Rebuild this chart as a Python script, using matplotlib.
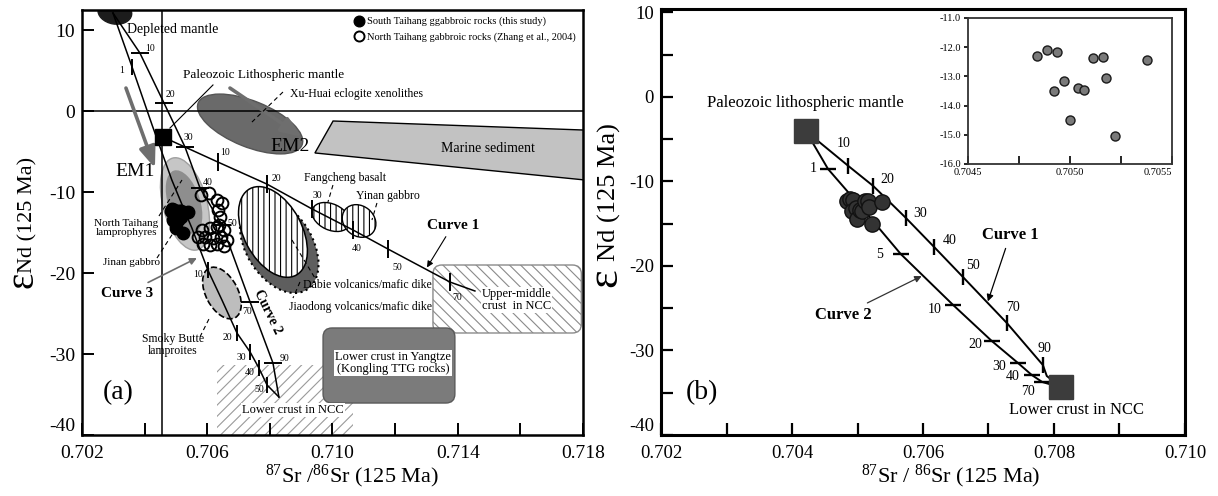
import numpy as np
import matplotlib
matplotlib.use("Agg")
import matplotlib.pyplot as plt
from matplotlib.patches import Ellipse, Polygon, FancyBboxPatch
from matplotlib.transforms import ScaledTranslation
from matplotlib.ticker import FormatStrFormatter

plt.rcParams.update({
    "font.family": ["Liberation Serif", "DejaVu Serif"],
    "mathtext.fontset": "custom",
    "mathtext.rm": "Liberation Serif",
    "mathtext.it": "Liberation Serif:italic",
    "mathtext.bf": "Liberation Serif:bold",
    "axes.unicode_minus": False,
    "hatch.linewidth": 0.8,
})

# ===== data =====
# South Taihang gabbroic rocks (this study)
st_sr = [0.704838, 0.704887, 0.704936, 0.704920, 0.704972, 0.704998, 0.705041,
         0.705067, 0.705113, 0.705163, 0.705176, 0.705219, 0.705377]
st_nd = [-12.29, -12.11, -12.16, -13.49, -13.17, -14.48, -13.40,
         -13.48, -12.37, -12.35, -13.07, -15.05, -12.43]

# North Taihang gabbroic rocks (Zhang et al., 2004)
nt_sr = [0.70580, 0.70606, 0.70631, 0.70647, 0.70634, 0.70641, 0.70638, 0.70583, 0.70609, 0.70631,
         0.70654, 0.70571, 0.70593, 0.70618, 0.70644, 0.70663, 0.70586, 0.70609, 0.70631, 0.70654]
nt_nd = [-10.35, -10.11, -10.97, -11.34, -12.21, -13.07, -14.06, -14.68, -14.43, -14.31,
         -14.68, -15.54, -15.54, -15.66, -15.54, -15.91, -16.41, -16.53, -16.41, -16.65]

# isotope fields (centres) in panel (a)
field_names = ["Depleted mantle", "EM2", "North Taihang lamprophyres", "Jinan gabbro",
               "Smoky Butte lamproites", "Jiaodong volcanics", "Dabie volcanics",
               "Fangcheng basalt", "Yinan gabbro"]
field_sr = [0.70305, 0.70737, 0.70529, 0.70526, 0.70647, 0.70830, 0.70810, 0.70995, 0.71085]
field_nd = [12.25, -1.58, -11.46, -11.22, -22.46, -16.60, -14.92, -13.07, -13.56]

# crustal reservoirs (sr range, nd range)
box_names = ["Upper-middle crust in NCC", "Lower crust in Yangtze", "Lower crust in NCC"]
box_sr = [(0.71321, 0.71795), (0.70970, 0.71391), (0.70631, 0.71066)]
box_nd = [(-27.40, -19.00), (-36.05, -26.78), (-41.0, -31.35)]

# marine sediment field
msed_sr = [0.71002, 0.7182, 0.7182, 0.70944]
msed_nd = [-1.21, -2.35, -8.55, -5.16]

# Paleozoic lithospheric mantle in (a)
plm_a_sr, plm_a_nd = 0.70459, -3.19

# mixing curves, panel (a)
a_c1_sr = [0.70459, 0.70634, 0.70790, 0.70935, 0.71066, 0.71177, 0.71375, 0.71455]
a_c1_nd = [-3.19, -6.28, -8.99, -12.08, -14.68, -17.02, -21.10, -22.21]
a_c1_ticks = [1, 2, 3, 4, 5, 6]
a_c1_labels = ["10", "20", "30", "40", "50", "70"]

a_c2_sr = [0.70299, 0.70385, 0.70462, 0.70529, 0.70577, 0.70647, 0.70737, 0.70810, 0.70829]
a_c2_nd = [12.13, 7.19, 1.01, -4.42, -9.49, -14.06, -23.57, -31.11, -35.31]
a_c2_ticks = [1, 2, 3, 4, 5, 6, 7]
a_c2_labels = ["10", "20", "30", "40", "50", "70", "90"]

a_c3_sr = [0.70299, 0.70360, 0.70424, 0.70487, 0.70532, 0.70551, 0.70602, 0.70647,
           0.70695, 0.70737, 0.70765, 0.70791, 0.70829]
a_c3_nd = [12.13, 5.46, -1.71, -8.50, -12.70, -14.43, -19.62, -23.32,
           -27.40, -29.75, -31.72, -33.82, -35.31]
a_c3_ticks = [1, 4, 6, 8, 9, 10, 11]
a_c3_labels = ["1", "5", "10", "20", "30", "40", "50"]

# end-members, panel (b)
plm_b_sr, plm_b_nd = 0.70421, -4.03
lcn_b_sr, lcn_b_nd = 0.70811, -34.38

# mixing curves, panel (b)
b_c1_sr = [0.70421, 0.70486, 0.70524, 0.70574, 0.70617, 0.70661, 0.70728, 0.70783, 0.70789, 0.70811]
b_c1_nd = [-4.03, -8.17, -10.54, -14.33, -17.76, -21.31, -26.75, -31.72, -33.02, -34.38]
b_c1_ticks = [1, 2, 3, 4, 5, 6, 7]
b_c1_labels = ["10", "20", "30", "40", "50", "70", "90"]

b_c2_sr = [0.70421, 0.70455, 0.70512, 0.70566, 0.70646, 0.70705, 0.70745, 0.70766, 0.70782, 0.70811]
b_c2_nd = [-4.03, -8.53, -13.62, -18.59, -24.62, -28.88, -31.48, -32.90, -33.73, -34.38]
b_c2_ticks = [1, 3, 4, 5, 6, 7, 8]
b_c2_labels = ["1", "5", "10", "20", "30", "40", "70"]


# ===== helpers =====
def oval(ax, sr, nd, w, h, ang, **kw):
    # ellipse of fixed size (inches) centred on a data point
    tr = ax.figure.dpi_scale_trans + ScaledTranslation(sr, nd, ax.transData)
    ax.add_patch(Ellipse((0, 0), w, h, angle=ang, transform=tr, **kw))


def px_aspect(ax):
    inv = ax.transData.inverted()
    p0, p1 = inv.transform((0, 0)), inv.transform((1, 1))
    return (p1[1] - p0[1]) / (p1[0] - p0[0]), p1[0] - p0[0]


def curve(ax, xs, ys, idx, labels, marker, ms, offs, lw, fs):
    ax.plot(xs, ys, color="k", lw=lw, zorder=3)
    tx = [xs[i] for i in idx]
    ty = [ys[i] for i in idx]
    ax.plot(tx, ty, ls="none", marker=marker, ms=ms, mew=lw + 0.3, color="k", zorder=3)
    for x, y, lab, (dx, dy) in zip(tx, ty, labels, offs):
        ax.annotate(lab, (x, y), xytext=(dx, dy), textcoords="offset points",
                    ha="center", va="center", fontsize=fs, zorder=6)


def leader(ax, x0, y0, x1, y1, ls="--"):
    ax.plot([x0, x1], [y0, y1], color="k", lw=0.8, ls=ls, dashes=(4, 3) if ls == "--" else (None, None), zorder=4)


fig = plt.figure(figsize=(12.18, 4.96), dpi=100)

# ===== panel (a) =====
ax = fig.add_axes([0.0673, 0.1230, 0.4113, 0.8568])
ax.set_xlim(0.702, 0.718)
ax.set_ylim(-40, 12.5)
ax.set_xticks([0.702, 0.704, 0.706, 0.708, 0.710, 0.712, 0.714, 0.716, 0.718],
              ["0.702", "", "0.706", "", "0.710", "", "0.714", "", "0.718"])
ax.set_yticks([-40, -30, -20, -10, 0, 10])
ax.tick_params(direction="in", length=8.5, width=1.4, labelsize=14, pad=5)
ax.tick_params(axis="x", pad=7)
ax.get_yticklabels()[0].set_va("bottom")
for s in ax.spines.values():
    s.set_linewidth(1.8)

ax.axvline(0.70455, color="k", lw=1.1, zorder=2)
ax.axhline(0, color="k", lw=1.1, zorder=2)

asp, xpp = px_aspect(ax)

# crustal boxes
ax.add_patch(FancyBboxPatch((box_sr[2][0], box_nd[2][0]), box_sr[2][1] - box_sr[2][0],
                            box_nd[2][1] - box_nd[2][0], boxstyle="square,pad=0",
                            fc="white", ec="#9a9a9a", lw=0, hatch="///", zorder=1))
ax.add_patch(FancyBboxPatch((box_sr[0][0], box_nd[0][0]), box_sr[0][1] - box_sr[0][0],
                            box_nd[0][1] - box_nd[0][0],
                            boxstyle=f"round,pad=0,rounding_size={9 * xpp}", mutation_aspect=asp,
                            fc="white", ec="#8a8a8a", lw=1.0, hatch="\\\\\\", zorder=1))
ax.add_patch(FancyBboxPatch((box_sr[1][0], box_nd[1][0]), box_sr[1][1] - box_sr[1][0],
                            box_nd[1][1] - box_nd[1][0],
                            boxstyle=f"round,pad=0,rounding_size={9 * xpp}", mutation_aspect=asp,
                            fc="#7b7b7b", ec="#5a5a5a", lw=1.0, zorder=1.5))

# marine sediment
ax.add_patch(Polygon(list(zip(msed_sr, msed_nd)), closed=True, fc="#c2c2c2", ec="k", lw=1.0, zorder=1))

# isotope fields
shapes = [
    (0.34, 0.24, -10, dict(fc="#1c1c1c", ec="#1c1c1c")),
    (1.12, 0.46, -22, dict(fc="#6a6a6a", ec="#555555")),
    (0.95, 0.44, -75, dict(fc="#c6c6c6", ec="#a0a0a0")),
    (0.66, 0.32, -72, dict(fc="#8e8e8e", ec="none")),
    (0.56, 0.32, -62, dict(fc="#bdbdbd", ec="k", ls="--", lw=1.2)),
    (1.04, 0.66, -58, dict(fc="#5e5e5e", ec="k", ls=":", lw=1.5)),
    (0.98, 0.58, -62, dict(fc="white", ec="k", hatch="|||", lw=1.1)),
    (0.40, 0.26, -25, dict(fc="white", ec="k", hatch="|||", lw=1.0)),
    (0.36, 0.30, -40, dict(fc="white", ec="k", hatch="|||", lw=1.0)),
]
for x, y, (w, h, a, st) in zip(field_sr, field_nd, shapes):
    oval(ax, x, y, w, h, a, zorder=1.2, **st)

# EM1 / EM2 trends
arr = dict(arrowstyle="-|>,head_length=0.9,head_width=0.35", color="#6e6e6e", lw=2.6,
           shrinkA=0, shrinkB=0, mutation_scale=14)
ax.annotate("", xy=(0.704331, -7.02), xytext=(0.703405, 2.86), arrowprops=arr, zorder=2)
ax.annotate("", xy=(0.709026, -3.19), xytext=(0.706727, 2.86), arrowprops=arr, zorder=2)

# mixing curves
curve(ax, a_c1_sr, a_c1_nd, a_c1_ticks, a_c1_labels, "|", 13,
      [(5, 7), (7, 4.3), (3.6, 10), (2.9, -13), (6.5, -13), (5, -11)], 1.1, 7)
curve(ax, a_c2_sr, a_c2_nd, a_c2_ticks, a_c2_labels, "_", 13,
      [(7, 3.6), (4.3, 5.8), (2.5, 6.5), (5.8, 4.3), (7.2, 1.4), (-2.2, -7.2), (8.6, 3.6)], 1.1, 7)
curve(ax, a_c3_sr, a_c3_nd, a_c3_ticks, a_c3_labels, "|", 11,
      [(-7.2, -2.2), (-9.4, 4.3), (-7.2, -2.9), (-7.2, -3.6), (-6.5, -3.6), (-6.5, -3.6), (-5.8, -3.6)], 1.1, 7)

ax.plot(plm_a_sr, plm_a_nd, "s", ms=12, color="k", zorder=5)

h_st, = ax.plot(st_sr, st_nd, "o", ms=9, mfc="k", mec="k", zorder=5,
                label="South Taihang ggabbroic rocks (this study)")
h_nt, = ax.plot(nt_sr, nt_nd, "o", ms=8.5, mfc="none", mec="k", mew=1.4, zorder=5,
                label="North Taihang gabbroic rocks (Zhang et al., 2004)")
ax.legend(handles=[h_st, h_nt], loc="upper right", bbox_to_anchor=(1.0, 1.0), frameon=False,
          fontsize=7.5, markerscale=0.85, handletextpad=0.3, labelspacing=0.55,
          borderaxespad=0.25, handlelength=1.0)

# leader lines
leader(ax, 0.706184, 3.24, 0.704810, -2.08, ls="-")
leader(ax, 0.708419, 2.37, 0.707429, -1.34)
leader(ax, 0.710016, -9.12, 0.709856, -11.22)
leader(ax, 0.711421, -11.34, 0.711261, -13.44)
leader(ax, 0.704459, -12.95, 0.705194, -8.50)
leader(ax, 0.704395, -18.14, 0.705034, -14.31)
leader(ax, 0.705768, -27.89, 0.706088, -25.42)
leader(ax, 0.708707, -15.91, 0.709441, -20.61)
leader(ax, 0.708962, -21.10, 0.708739, -23.08)

wbg = dict(facecolor="white", edgecolor="none", pad=0.5)
ax.text(0.70344, 10.15, "Depleted mantle", fontsize=10, va="center", zorder=6)
ax.text(0.70523, 4.47, "Paleozoic Lithospheric mantle", fontsize=9.5, va="center", zorder=6)
ax.text(0.70864, 2.12, "Xu-Huai eclogite xenolithes", fontsize=8.5, va="center", zorder=6)
ax.text(0.70369, -7.51, "EM1", fontsize=14, ha="center", va="center", zorder=6)
ax.text(0.70864, -4.30, "EM2", fontsize=14, ha="center", va="center", zorder=6)
ax.text(0.71497, -4.55, "Marine sediment", fontsize=10, ha="center", va="center", zorder=6)
ax.text(0.71040, -8.25, "Fangcheng basalt", fontsize=8.5, ha="center", va="center", zorder=6)
ax.text(0.71177, -10.48, "Yinan gabbro", fontsize=8.5, ha="center", va="center", zorder=6)
ax.text(0.70341, -14.43, "North Taihang\nlamprophyres", fontsize=8, ha="center", va="center",
        linespacing=1.0, zorder=6)
ax.text(0.70357, -18.75, "Jinan gabbro", fontsize=8, ha="center", va="center", zorder=6)
ax.text(0.70491, -28.88, "Smoky Butte\nlamproites", fontsize=8.5, ha="center", va="center",
        linespacing=1.0, zorder=1.9)
ax.text(0.71110, -21.47, "Dabie volcanics/mafic dike", fontsize=8.5, ha="center", va="center", zorder=6)
ax.text(0.71091, -24.19, "Jiaodong volcanics/mafic dike", fontsize=8.5, ha="center", va="center", zorder=6)
ax.text(0.71589, -23.32, "Upper-middle\ncrust  in NCC", fontsize=9, ha="center", va="center",
        linespacing=1.0, bbox=wbg, zorder=6)
ax.text(0.71193, -31.11, "Lower crust in Yangtze\n(Kongling TTG rocks)", fontsize=9, ha="center",
        va="center", linespacing=1.0, bbox=wbg, zorder=6)
ax.text(0.70874, -36.91, "Lower crust in NCC", fontsize=9, ha="center", va="center", bbox=wbg, zorder=6)
ax.text(0.70794, -24.81, "Curve 2", fontsize=10, fontweight="bold", rotation=-64,
        ha="center", va="center", zorder=6)
ax.annotate("Curve 1", xy=(0.71302, -19.3), xytext=(0.71385, -14.06), fontsize=11, fontweight="bold",
            ha="center", va="center", zorder=6,
            arrowprops=dict(arrowstyle="-|>", color="k", lw=0.8, mutation_scale=9, shrinkA=2, shrinkB=0))
ax.annotate("Curve 3", xy=(0.70567, -18.14), xytext=(0.70344, -22.46), fontsize=11, fontweight="bold",
            ha="center", va="center", zorder=6,
            arrowprops=dict(arrowstyle="-|>", color="#6e6e6e", lw=1.2, mutation_scale=10, shrinkA=2, shrinkB=0))
ax.text(0.70315, -34.81, "(a)", fontsize=20, ha="center", va="center")

ax.text(0.539, -0.097, r"$^{87}$Sr /$^{86}$Sr (125 Ma)", transform=ax.transAxes, fontsize=16,
        ha="center", va="center")
ax.text(-0.108, 0.517, "Nd (125 Ma)", transform=ax.transAxes, fontsize=16, rotation=90,
        ha="center", va="center")
ax.text(-0.118, 0.365, "ε", transform=ax.transAxes, fontsize=28, rotation=90,
        ha="center", va="center")

# ===== panel (b) =====
bx = fig.add_axes([0.5427, 0.1230, 0.4302, 0.8589])
bx.set_xlim(0.702, 0.710)
bx.set_ylim(-40, 10.4)
bx.set_xticks([0.702, 0.703, 0.704, 0.705, 0.706, 0.707, 0.708, 0.709, 0.710],
              ["0.702", "", "0.704", "", "0.706", "", "0.708", "", "0.710"])
bx.set_yticks([-40, -35, -30, -25, -20, -15, -10, -5, 0, 5, 10],
              ["-40", "", "-30", "", "-20", "", "-10", "", "0", "", "10"])
bx.tick_params(direction="in", length=8.5, width=1.6, labelsize=13.5, pad=5)
bx.tick_params(axis="x", pad=7)
bx.get_yticklabels()[0].set_va("bottom")
for s in bx.spines.values():
    s.set_linewidth(2.2)

curve(bx, b_c1_sr, b_c1_nd, b_c1_ticks, b_c1_labels, "|", 12,
      [(-3.6, 16), (10, 5), (10, 3.6), (11.5, 5), (7.2, 8.6), (4.3, 10.8), (1.4, 12.2)], 1.4, 10)
curve(bx, b_c2_sr, b_c2_nd, b_c2_ticks, b_c2_labels, "_", 12,
      [(-10.8, 0), (-15, 0), (-13, -2.9), (-12.2, -2.2), (-13.7, -2.2), (-13.7, -1.4), (-10, -6.5)], 1.4, 10)

bx.plot(st_sr, st_nd, "o", ms=11, mfc="#333333", mec="#111111", mew=1.0, zorder=5)
bx.plot([plm_b_sr, lcn_b_sr], [plm_b_nd, lcn_b_nd], "s", ms=17, color="#3c3c3c", zorder=5)

bx.text(0.70420, -0.72, "Paleozoic lithospheric mantle", fontsize=12, ha="center", va="center")
bx.text(0.70835, -37.04, "Lower crust in NCC", fontsize=12, ha="center", va="center")
bx.text(0.70263, -35.03, "(b)", fontsize=20, ha="center", va="center")
bx.annotate("Curve 1", xy=(0.70699, -24.2), xytext=(0.70733, -16.34), fontsize=12, fontweight="bold",
            ha="center", va="center",
            arrowprops=dict(arrowstyle="-|>", color="k", lw=0.9, mutation_scale=10, shrinkA=2, shrinkB=0))
bx.annotate("Curve 2", xy=(0.70598, -21.2), xytext=(0.70478, -25.8), fontsize=12, fontweight="bold",
            ha="center", va="center",
            arrowprops=dict(arrowstyle="-|>", color="#333333", lw=0.9, mutation_scale=10, shrinkA=2, shrinkB=0))

bx.text(0.553, -0.096, r"$^{87}$Sr / $^{86}$Sr (125 Ma)", transform=bx.transAxes, fontsize=16,
        ha="center", va="center")
bx.text(-0.098, 0.57, "Nd (125 Ma)", transform=bx.transAxes, fontsize=19, rotation=90,
        ha="center", va="center")
bx.text(-0.106, 0.37, "ε", transform=bx.transAxes, fontsize=32, rotation=90,
        ha="center", va="center")

# inset: zoom on South Taihang samples
ins = fig.add_axes([0.7947, 0.6694, 0.1675, 0.2944])
ins.plot(st_sr, st_nd, "o", ms=6.5, mfc="#7a7a7a", mec="#1a1a1a", mew=1.0)
ins.set_xlim(0.7045, 0.7055)
ins.set_ylim(-16, -11)
ins.set_xticks([0.7045, 0.70475, 0.7050, 0.70525, 0.7055], ["0.7045", "", "0.7050", "", "0.7055"])
ins.set_yticks([-16, -15, -14, -13, -12, -11])
ins.yaxis.set_major_formatter(FormatStrFormatter("%.1f"))
ins.tick_params(axis="x", direction="in", length=6, width=1.2, labelsize=7.5, pad=3)
ins.tick_params(axis="y", direction="out", length=3, width=1.2, labelsize=7.5, pad=2)
ins.get_xticklabels()[-1].set_ha("right")
ins.get_xticklabels()[-1].set_x(0.70556)
for s in ins.spines.values():
    s.set_linewidth(1.3)
    s.set_color("#333333")

fig.savefig("out.png", dpi=100)
